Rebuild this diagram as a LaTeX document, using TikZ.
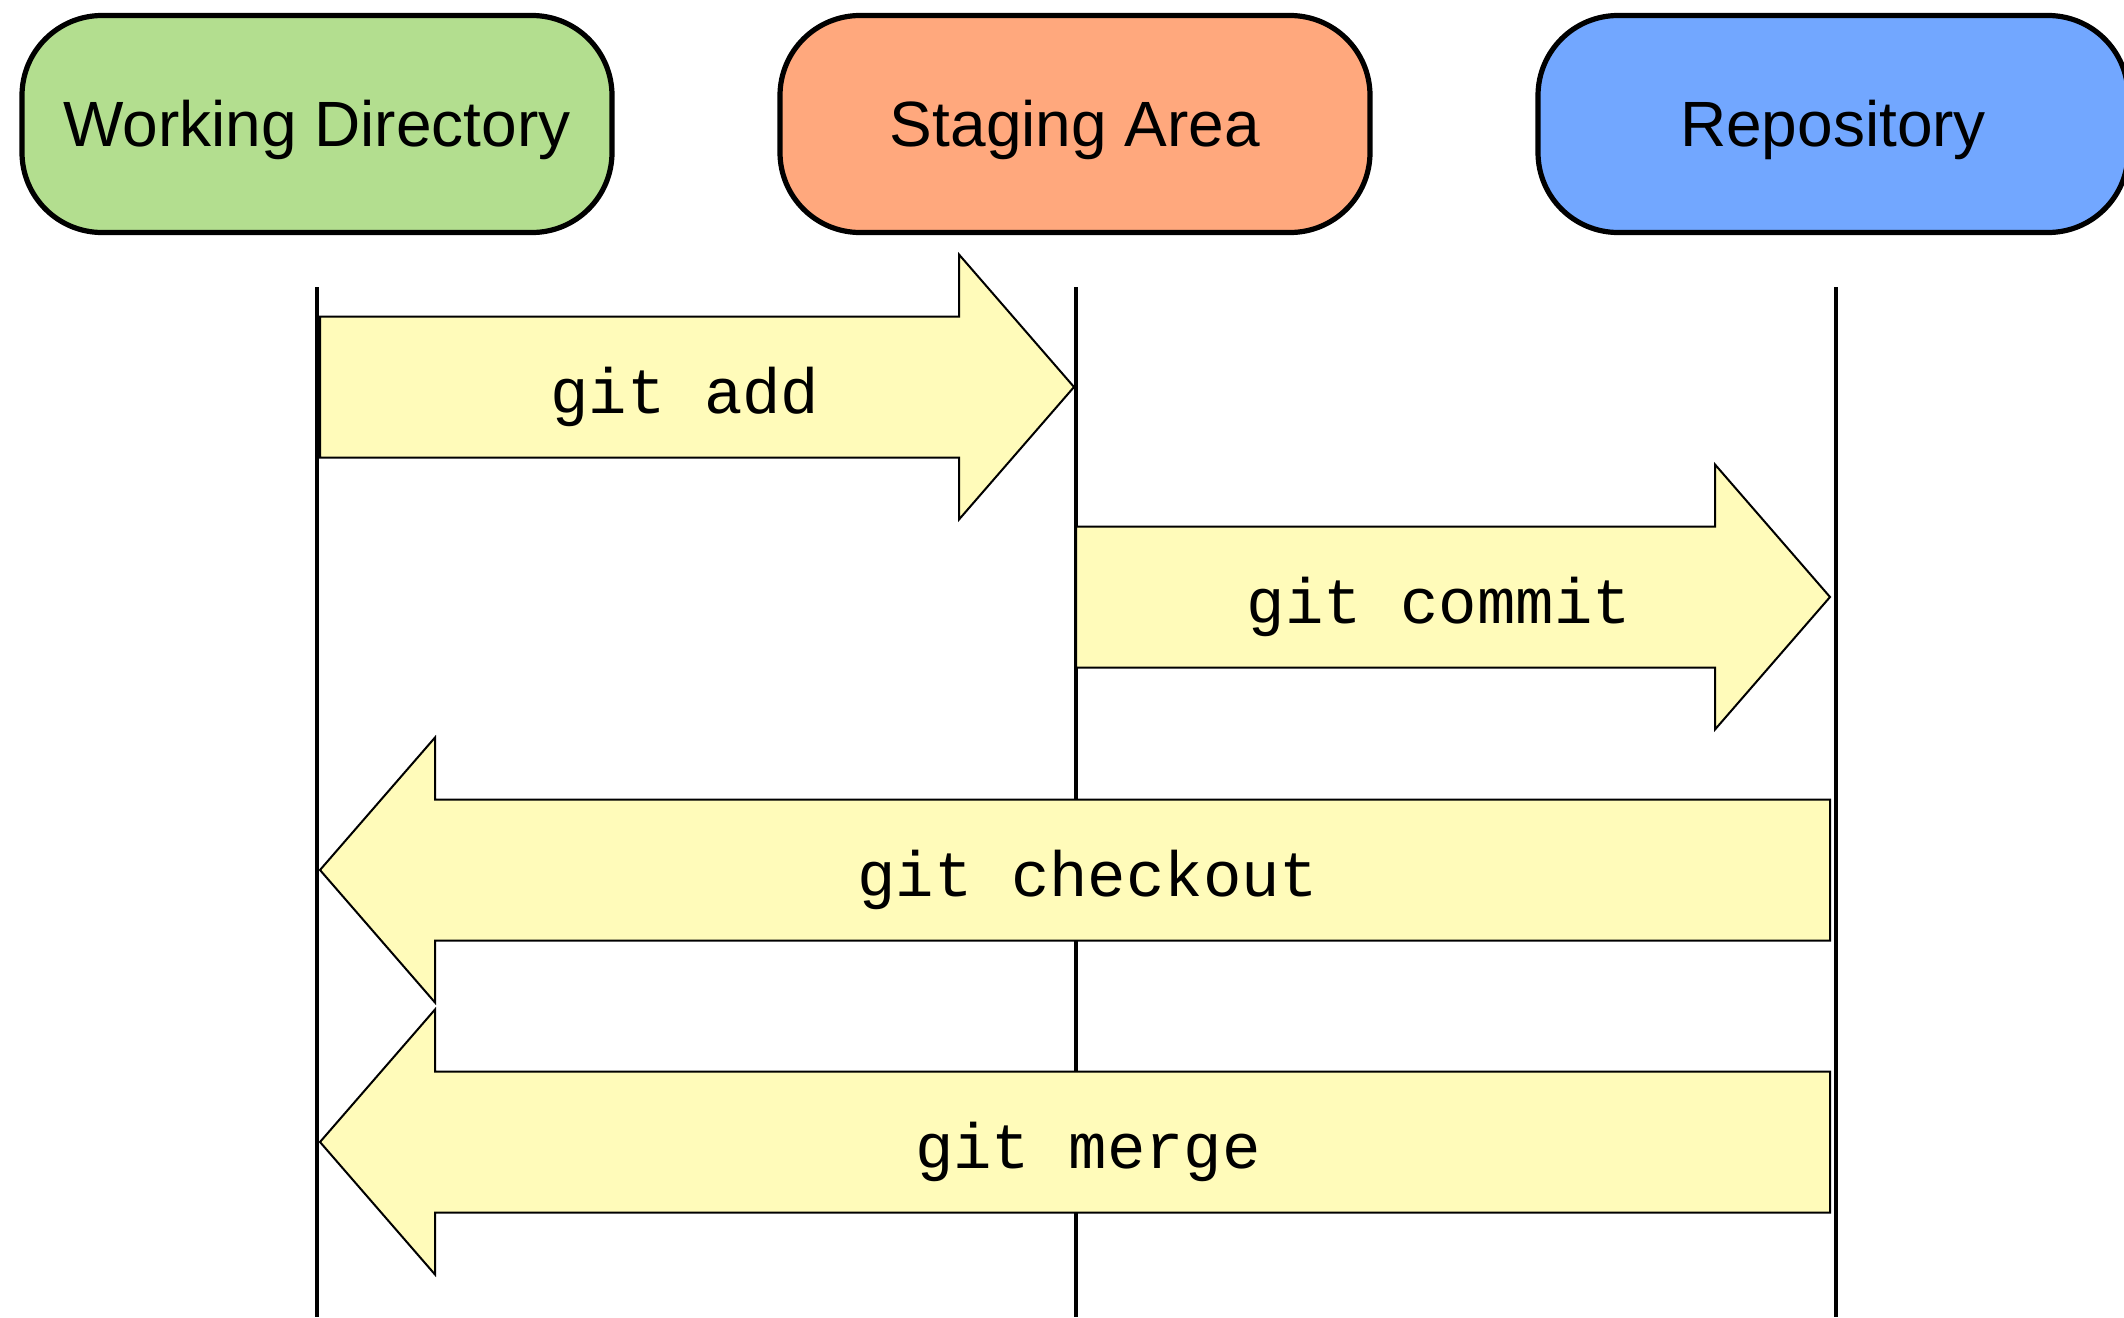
\documentclass[tikz,border=0pt]{standalone}
\usepackage{fontspec}
\setmainfont{Liberation Sans}
\newfontfamily\cmdfont{Liberation Mono}
\definecolor{wdgreen}{HTML}{B3DE8F}
\definecolor{stageorange}{HTML}{FFA87D}
\definecolor{repoblue}{HTML}{72A7FF}
\definecolor{cmdyellow}{HTML}{FFFBBA}
\tikzset{
  area/.style={draw=black, line width=2.6pt, rounded corners=40pt,
    minimum width=295pt, minimum height=108.5pt, inner sep=0pt},
  areatext/.style={font=\fontsize{32}{38}\selectfont, inner sep=0pt},
  lane/.style={draw=black, line width=2.4pt},
  fatarrow/.style={draw=black, fill=cmdyellow, line width=1pt, line join=miter},
  cmd/.style={font=\cmdfont\fontsize{32}{38}\selectfont, inner sep=0pt}
}
\begin{document}
\begin{tikzpicture}[x=0.5pt, y=-0.5pt]
  \useasboundingbox (0,0) rectangle (2124,1317);
  \coordinate (bottom) at (0,1317);

  % the three areas
  \node[area, fill=wdgreen]     (wd)    at (317,124)  {};
  \node[area, fill=stageorange] (stage) at (1075,124) {};
  \node[area, fill=repoblue]    (repo)  at (1833,124) {};
  \node[areatext] (wdlabel)    at ([yshift=-3pt]wd.center)    {Working Directory};
  \node[areatext] (stagelabel) at ([yshift=-3pt]stage.center) {Staging Area};
  \node[areatext] (repolabel)  at ([yshift=-3pt]repo.center)  {Repository};

  % lifelines below each area
  \draw[lane] ([yshift=-26pt]wd.south) -- (wd.south |- bottom);
  \draw[lane] ([yshift=-26pt,xshift=0.5pt]stage.south) -- ([xshift=0.5pt]stage.south |- bottom);
  \draw[lane] ([yshift=-26pt,xshift=1.5pt]repo.south) -- ([xshift=1.5pt]repo.south |- bottom);

  % git add: working directory -> staging area
  \draw[fatarrow] (320,316.5) -- (959,316.5) -- (959,254.5) -- (1074,387)
    -- (959,519.5) -- (959,457.5) -- (320,457.5) -- cycle;
  \node[cmd] (add) at (685,397) {git add};

  % git commit: staging area -> repository
  \draw[fatarrow] (1076,526.5) -- (1715,526.5) -- (1715,464.5) -- (1830,597)
    -- (1715,729.5) -- (1715,667.5) -- (1076,667.5) -- cycle;
  \node[cmd] (commit) at (1439,607) {git commit};

  % git checkout: repository -> working directory
  \draw[fatarrow] (1830,799.5) -- (435,799.5) -- (435,737.5) -- (320,870)
    -- (435,1002.5) -- (435,940.5) -- (1830,940.5) -- cycle;
  \node[cmd] (checkout) at (1088,880) {git checkout};

  % git merge: repository -> working directory
  \draw[fatarrow] (1830,1071.5) -- (435,1071.5) -- (435,1009.5) -- (320,1142)
    -- (435,1274.5) -- (435,1212.5) -- (1830,1212.5) -- cycle;
  \node[cmd] (merge) at (1088,1152) {git merge};
\end{tikzpicture}
\end{document}
